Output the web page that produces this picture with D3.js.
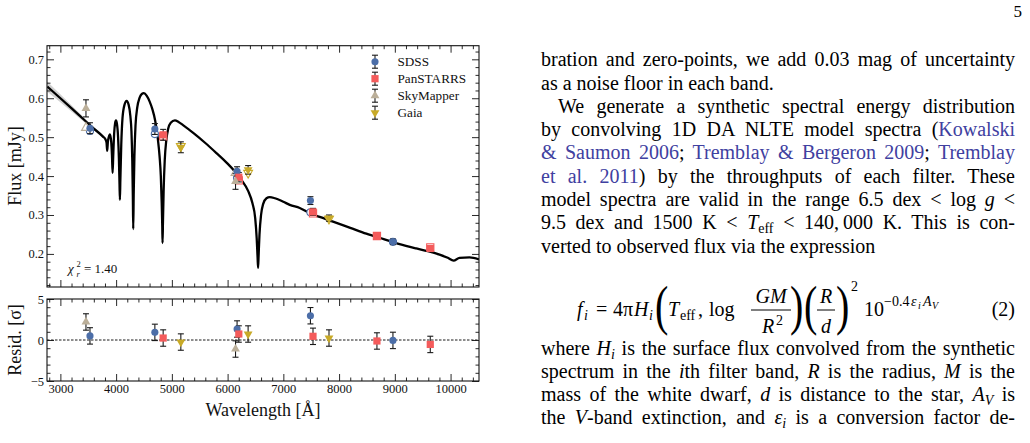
<!DOCTYPE html>
<html>
<head>
<meta charset="utf-8">
<script src="https://cdn.jsdelivr.net/npm/d3@7"></script>
<style>
body { margin: 0; background: #fff; width: 1030px; height: 443px; overflow: hidden; position: relative; font-family: "Liberation Serif", serif; }
svg { position: absolute; left: 0; top: 0; }
.ln { position: absolute; left: 541px; width: 474px; font-size: 20px; line-height: 20px; white-space: nowrap;
      text-align: justify; text-align-last: justify; color: #000; }
.ln.last { text-align-last: left; }
.ln.indent { text-indent: 17px; }
.cite { color: #4040a0; }
sub { font-size: 70%; vertical-align: -0.25em; line-height: 0; }
</style>
</head>
<body>
<svg id="fig" width="1030" height="443"></svg>
<div id="col"></div>
<script>
// ---- data ----
// SDSS (u g r i z)
var sdssLam   = [3531, 4695, 6170, 7486, 8966];
var sdssFlux  = [0.523, 0.521, 0.412, 0.337, 0.231];
var sdssErr   = [0.014, 0.014, 0.012, 0.010, 0.007];
var sdssModel = [0.516, 0.508, 0.396, 0.307, 0.231];
var sdssResid = [0.5, 0.93, 1.34, 2.96, -0.05];

// PanSTARRS (g r i z y)
var psLam   = [4844, 6201, 7532, 8679, 9636];
var psFlux  = [0.506, 0.397, 0.308, 0.245, 0.214];
var psErr   = [0.014, 0.012, 0.009, 0.007, 0.006];
var psModel = [0.502, 0.389, 0.304, 0.246, 0.217];
var psResid = [0.24, 0.73, 0.45, -0.12, -0.54];

// SkyMapper (u r)
var smLam   = [3459, 6142];
var smFlux  = [0.574, 0.386];
var smErr   = [0.022, 0.020];
var smModel = [0.524, 0.408];
var smResid = [2.2, -1.1];

// Gaia (BP G RP)
var gaiaLam   = [5161, 6368, 7819];
var gaiaFlux  = [0.474, 0.416, 0.292];
var gaiaErr   = [0.014, 0.011, 0.008];
var gaiaModel = [0.477, 0.408, 0.290];
var gaiaResid = [-0.25, 0.73, 0.24];

// best-fit model spectrum
var modelLam = [2765, 3000, 3300, 3600, 3760, 3810, 3828, 3840, 3852, 3868, 3889, 3912, 3926, 3937, 3948,
  3965, 3982, 3997, 4015, 4035, 4050, 4061, 4068, 4076, 4092, 4115, 4150, 4188, 4225, 4255, 4275, 4290,
  4300, 4307, 4315, 4328, 4348, 4380, 4420, 4460, 4498, 4550, 4600, 4650, 4700, 4745, 4780, 4802, 4818,
  4828, 4833, 4840, 4852, 4872, 4900, 4935, 4980, 5054, 5120, 5200, 5400, 5600, 5800, 6000, 6129, 6249,
  6368, 6446, 6495, 6522, 6538, 6547, 6556, 6572, 6600, 6637, 6697, 6756, 6850, 7000, 7115, 7294, 7500,
  7652, 7891, 8200, 8489, 8800, 9086, 9385, 9593, 9803, 9950, 10054, 10161, 10340, 10510];
var modelFlux = [0.630, 0.600, 0.561, 0.522, 0.502, 0.494, 0.486, 0.465, 0.488, 0.500, 0.507, 0.488, 0.452, 0.408, 0.452,
  0.510, 0.536, 0.543, 0.534, 0.500, 0.445, 0.380, 0.339, 0.390, 0.480, 0.550, 0.583, 0.593, 0.583, 0.555, 0.515, 0.440,
  0.350, 0.264, 0.350, 0.450, 0.530, 0.577, 0.601, 0.611, 0.613, 0.606, 0.592, 0.572, 0.543, 0.500, 0.450, 0.400, 0.330,
  0.270, 0.228, 0.280, 0.360, 0.440, 0.492, 0.522, 0.537, 0.543, 0.539, 0.531, 0.509, 0.485, 0.459, 0.432, 0.412, 0.390,
  0.362, 0.330, 0.292, 0.240, 0.190, 0.164, 0.195, 0.250, 0.300, 0.328, 0.343, 0.346, 0.343, 0.334, 0.326, 0.318, 0.303,
  0.295, 0.283, 0.267, 0.252, 0.238, 0.225, 0.214, 0.207, 0.198, 0.190, 0.183, 0.190, 0.191, 0.186];

// model uncertainty band (blue end)
var bandLam = [2765, 3000, 3300, 3600, 3830];
var bandLo  = [0.617, 0.590, 0.554, 0.518, 0.491];
var bandHi  = [0.643, 0.610, 0.568, 0.526, 0.495];

// ticks
var xMajor = [3000, 4000, 5000, 6000, 7000, 8000, 9000, 10000];
var xMinor = d3.range(2800, 10600, 200).filter(function (v) { return v % 1000 !== 0; });
var fluxMajor = [0.2, 0.3, 0.4, 0.5, 0.6, 0.7];
var fluxMinor = d3.range(12, 74, 2).filter(function (v) { return v % 10 !== 0; }).map(function (v) { return v / 100; });
var residMajor = [-5, 0, 5];
var residMinor = [-4, -3, -2, -1, 1, 2, 3, 4];

var chi2 = "1.40";

// ---- layout ----
var FONT = "Liberation Serif";
var svg = d3.select("#fig");
svg.append("rect").attr("width", 1030).attr("height", 443).attr("fill", "#fff");

var x = d3.scaleLinear().domain([2760, 10510]).range([47, 479]);
var yTop = d3.scaleLinear().domain([0.115, 0.735]).range([287, 45.7]);
var yRes = d3.scaleLinear().domain([-5, 5]).range([381, 299]);

var series = [
  { name: "SDSS", lam: sdssLam, flux: sdssFlux, err: sdssErr, model: sdssModel, resid: sdssResid,
    color: "#4c6ea8", type: d3.symbolCircle, size: 40, rot: 0 },
  { name: "PanSTARRS", lam: psLam, flux: psFlux, err: psErr, model: psModel, resid: psResid,
    color: "#f45b5b", type: d3.symbolSquare, size: 52, rot: 0 },
  { name: "SkyMapper", lam: smLam, flux: smFlux, err: smErr, model: smModel, resid: smResid,
    color: "#bbaf99", type: d3.symbolTriangle, size: 34, rot: 0 },
  { name: "Gaia", lam: gaiaLam, flux: gaiaFlux, err: gaiaErr, model: gaiaModel, resid: gaiaResid,
    color: "#c8aa28", type: d3.symbolTriangle, size: 34, rot: 180 }
];

function addAxes(y, yMajor, yMinor, yFmt, xLabels) {
  var g = svg.append("g");
  var x0 = x.range()[0], x1 = x.range()[1], yb = y.range()[0], yt = y.range()[1];
  function put(axis, tr) {
    g.append("g").attr("transform", tr).call(axis).call(function (s) { s.select(".domain").remove(); });
  }
  put(d3.axisBottom(x).tickValues(xMajor).tickSize(-7).tickPadding(3).tickFormat(xLabels ? d3.format("d") : ""), "translate(0," + yb + ")");
  put(d3.axisBottom(x).tickValues(xMinor).tickSize(-3.5).tickFormat(""), "translate(0," + yb + ")");
  put(d3.axisTop(x).tickValues(xMajor).tickSize(-7).tickFormat(""), "translate(0," + yt + ")");
  put(d3.axisTop(x).tickValues(xMinor).tickSize(-3.5).tickFormat(""), "translate(0," + yt + ")");
  put(d3.axisLeft(y).tickValues(yMajor).tickSize(-7).tickPadding(3).tickFormat(yFmt), "translate(" + x0 + ",0)");
  put(d3.axisLeft(y).tickValues(yMinor).tickSize(-3.5).tickFormat(""), "translate(" + x0 + ",0)");
  put(d3.axisRight(y).tickValues(yMajor).tickSize(-7).tickFormat(""), "translate(" + x1 + ",0)");
  put(d3.axisRight(y).tickValues(yMinor).tickSize(-3.5).tickFormat(""), "translate(" + x1 + ",0)");
  g.selectAll("line").attr("stroke", "#111").attr("stroke-width", 0.9);
  g.selectAll("text").attr("font-family", FONT).attr("font-size", 12.5).attr("fill", "#111");
  g.append("rect").attr("x", x0).attr("y", yt).attr("width", x1 - x0).attr("height", yb - yt)
    .attr("fill", "none").attr("stroke", "#111").attr("stroke-width", 1.1);
}

function marker(g, s, px, py, hollow) {
  g.append("path")
    .attr("d", d3.symbol().type(s.type).size(s.size)())
    .attr("transform", "translate(" + px + "," + py + ") rotate(" + s.rot + ")")
    .attr("fill", hollow ? "#fff" : s.color)
    .attr("stroke", hollow ? s.color : "none")
    .attr("stroke-width", 1.1);
}

function errbar(g, px, pyLo, pyHi) {
  g.append("line").attr("x1", px).attr("x2", px).attr("y1", pyLo).attr("y2", pyHi);
  g.append("line").attr("x1", px - 3).attr("x2", px + 3).attr("y1", pyLo).attr("y2", pyLo);
  g.append("line").attr("x1", px - 3).attr("x2", px + 3).attr("y1", pyHi).attr("y2", pyHi);
}

// ---- top panel: SED ----
var sedG = svg.append("g");
svg.append("clipPath").attr("id", "clipTop").append("rect")
  .attr("x", 47).attr("y", 45.7).attr("width", 432).attr("height", 241.3);

sedG.append("path")
  .datum(d3.range(bandLam.length))
  .attr("clip-path", "url(#clipTop)")
  .attr("fill", "#d2d2d2")
  .attr("d", d3.area().curve(d3.curveMonotoneX)
    .x(function (i) { return x(bandLam[i]); })
    .y0(function (i) { return yTop(bandLo[i]); })
    .y1(function (i) { return yTop(bandHi[i]); }));

sedG.append("path")
  .datum(d3.range(modelLam.length))
  .attr("clip-path", "url(#clipTop)")
  .attr("fill", "none").attr("stroke", "#000").attr("stroke-width", 2.3).attr("stroke-linejoin", "round")
  .attr("d", d3.line().curve(d3.curveMonotoneX)
    .x(function (i) { return x(modelLam[i]); })
    .y(function (i) { return yTop(modelFlux[i]); }));

var hollowG = sedG.append("g");
var barsG = sedG.append("g").attr("stroke", "#1a1a1a").attr("stroke-width", 1.1);
var ptsG = sedG.append("g");
series.forEach(function (s) {
  s.lam.forEach(function (l, i) {
    marker(hollowG, s, x(l), yTop(s.model[i]), true);
    errbar(barsG, x(l), yTop(s.flux[i] - s.err[i]), yTop(s.flux[i] + s.err[i]));
    marker(ptsG, s, x(l), yTop(s.flux[i]), false);
  });
});

addAxes(yTop, fluxMajor, fluxMinor, d3.format(".1f"), false);

// legend
var leg = svg.append("g");
var legBars = leg.append("g").attr("stroke", "#1a1a1a").attr("stroke-width", 1.1);
series.forEach(function (s, i) {
  var ly = 61.7 + i * 17;
  errbar(legBars, 375, ly + 6.5, ly - 6.5);
  marker(leg, s, 375, ly, false);
  leg.append("text").attr("x", 397.5).attr("y", ly + 4.5)
    .attr("font-family", FONT).attr("font-size", 13.2).attr("fill", "#111").text(s.name);
});

// reduced chi-square
var chi = svg.append("g").attr("font-family", FONT).attr("fill", "#111");
chi.append("text").attr("x", 68).attr("y", 273).attr("font-size", 13).attr("font-style", "italic").text("χ");
chi.append("text").attr("x", 76.5).attr("y", 266.5).attr("font-size", 8.5).text("2");
chi.append("text").attr("x", 76.5).attr("y", 276.5).attr("font-size", 8.5).attr("font-style", "italic").text("r");
chi.append("text").attr("x", 84).attr("y", 273).attr("font-size", 13).text("= " + chi2);

// ---- bottom panel: residuals ----
var res = svg.append("g");
res.append("line").attr("x1", 47).attr("x2", 479).attr("y1", yRes(0)).attr("y2", yRes(0))
  .attr("stroke", "#000").attr("stroke-width", 0.9).attr("stroke-dasharray", "2.5,1.5");
var rBars = res.append("g").attr("stroke", "#1a1a1a").attr("stroke-width", 1.1);
var rPts = res.append("g");
series.forEach(function (s) {
  s.lam.forEach(function (l, i) {
    errbar(rBars, x(l), yRes(s.resid[i] - 1), yRes(s.resid[i] + 1));
    marker(rPts, s, x(l), yRes(s.resid[i]), false);
  });
});
addAxes(yRes, residMajor, residMinor, d3.format("d"), true);

// axis titles
svg.append("text").attr("transform", "translate(21,166) rotate(-90)").attr("text-anchor", "middle")
  .attr("font-family", FONT).attr("font-size", 18).attr("fill", "#111").text("Flux [mJy]");
svg.append("text").attr("transform", "translate(21,340) rotate(-90)").attr("text-anchor", "middle")
  .attr("font-family", FONT).attr("font-size", 18).attr("fill", "#111").text("Resid. [σ]");
svg.append("text").attr("x", 263).attr("y", 416).attr("text-anchor", "middle")
  .attr("font-family", FONT).attr("font-size", 18).attr("fill", "#111").text("Wavelength [Å]");

// page number
svg.append("text").attr("x", 1022).attr("y", 17).attr("text-anchor", "end")
  .attr("font-family", FONT).attr("font-size", 17).text("5");

// ---- text column ----
var lines = [
  { b: 66, cls: "", html: "bration and zero-points, we add 0.03 mag of uncertainty" },
  { b: 89.3, cls: "last", html: "as a noise floor in each band." },
  { b: 112.6, cls: "indent", html: "We generate a synthetic spectral energy distribution" },
  { b: 135.9, cls: "", html: "by convolving 1D DA NLTE model spectra (<span class='cite'>Kowalski</span>" },
  { b: 159.2, cls: "", html: "<span class='cite'>&amp; Saumon 2006</span>; <span class='cite'>Tremblay &amp; Bergeron 2009</span>; <span class='cite'>Tremblay</span>" },
  { b: 182.5, cls: "", html: "<span class='cite'>et al. 2011</span>) by the throughputs of each filter. These" },
  { b: 205.8, cls: "", html: "model spectra are valid in the range 6.5 dex &lt; log <i>g</i> &lt;" },
  { b: 229.1, cls: "", html: "9.5 dex and 1500 K &lt; <i>T</i><sub>eff</sub> &lt; 140,&#8201;000 K. This is con-" },
  { b: 252.4, cls: "last", html: "verted to observed flux via the expression" },
  { b: 355, cls: "", html: "where <i>H<sub>i</sub></i> is the surface flux convolved from the synthetic" },
  { b: 378, cls: "", html: "spectrum in the <i>i</i>th filter band, <i>R</i> is the radius, <i>M</i> is the" },
  { b: 401, cls: "", html: "mass of the white dwarf, <i>d</i> is distance to the star, <i>A<sub>V</sub></i> is" },
  { b: 424, cls: "", html: "the <i>V</i>-band extinction, and <i>ε<sub>i</sub></i> is a conversion factor de-" }
];
d3.select("#col").selectAll("div").data(lines).join("div")
  .attr("class", function (d) { return "ln " + d.cls; })
  .style("top", function (d) { return (d.b - 16.75) + "px"; })
  .html(function (d) { return d.html; });

// ---- equation (2) ----
var eq = svg.append("g").attr("font-family", FONT).attr("font-size", 20).attr("fill", "#000");
var eb = 316;
function t(xp, yp, s, o) {
  o = o || {};
  return eq.append("text").attr("x", xp).attr("y", yp).attr("font-size", o.size || 20)
    .attr("font-style", o.it ? "italic" : "normal").attr("text-anchor", o.anchor || "start").text(s);
}
function bigParen(xp, s) {
  eq.append("text").attr("transform", "translate(" + xp + "," + (eb - 6) + ") scale(1,1.35)")
    .attr("y", 10).attr("font-size", 40).attr("font-weight", 300).text(s);
}
t(577, eb, "f", { it: true }); t(584, eb + 4, "i", { it: true, size: 14 });
t(596, eb, "=");
t(613, eb, "4π"); t(634, eb, "H", { it: true }); t(649, eb + 4, "i", { it: true, size: 14 });
bigParen(655, "(");
t(668, eb, "T", { it: true }); t(680, eb + 4, "eff", { size: 14 }); t(698, eb, ",");
t(709, eb, "log");
t(771, eb - 13, "GM", { it: true, anchor: "middle" });
eq.append("line").attr("x1", 751).attr("x2", 791).attr("y1", eb - 6).attr("y2", eb - 6).attr("stroke", "#000").attr("stroke-width", 1);
t(768, eb + 17, "R", { it: true, anchor: "middle" }); t(776, eb + 9, "2", { size: 14 });
bigParen(790, ")");
bigParen(804, "(");
t(826, eb - 13, "R", { it: true, anchor: "middle" });
eq.append("line").attr("x1", 817).attr("x2", 835).attr("y1", eb - 6).attr("y2", eb - 6).attr("stroke", "#000").attr("stroke-width", 1);
t(826, eb + 17, "d", { it: true, anchor: "middle" });
bigParen(836, ")");
t(851, eb - 25, "2", { size: 14 });
t(864, eb, "10");
t(884, eb - 10, "−0.4", { size: 14 }); t(911, eb - 10, "ε", { it: true, size: 14 });
t(918, eb - 7, "i", { it: true, size: 10 }); t(923, eb - 10, "A", { it: true, size: 14 });
t(932, eb - 7, "V", { it: true, size: 10 });
t(1015, eb, "(2)", { anchor: "end" });
</script>
</body>
</html>
